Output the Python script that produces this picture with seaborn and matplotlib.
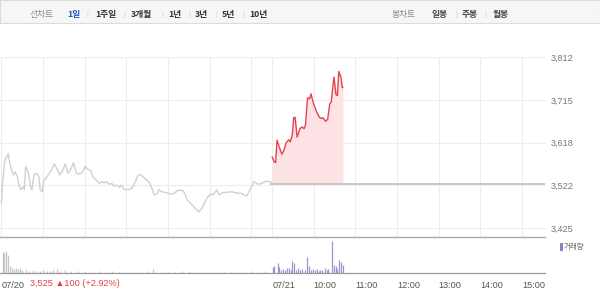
import matplotlib
matplotlib.use("Agg")
import matplotlib.pyplot as plt
from matplotlib.patches import Rectangle
import numpy as np
import pandas as pd
import seaborn as sns

# ---------------- data ----------------
# minutes since 09:00 of 07/20 (07/21 09:00 = 390)
day1_min = [0, 2, 5, 8, 10, 12, 15, 17, 20, 23, 26, 28, 31, 33, 35, 39, 42, 44, 47, 51,
            54, 56, 59, 61, 65, 69, 72, 76, 80, 84, 88, 92, 96, 100, 104, 108, 112, 116,
            118, 121, 124, 128, 132, 137, 141, 145, 148, 152, 155, 159, 162, 166, 170,
            173, 177, 183, 188, 193, 197, 200, 204, 212, 217, 220, 224, 227, 231, 238,
            243, 248, 253, 257, 262, 265, 268, 272, 276, 281, 285, 289, 293, 298, 302,
            305, 310, 314, 318, 325, 332, 337, 346, 353, 358, 364, 370, 375, 381, 387, 390]
day1_price = [3481, 3533, 3579, 3586, 3594, 3571, 3556, 3545, 3552, 3541, 3518, 3512, 3518,
              3512, 3564, 3549, 3518, 3512, 3545, 3549, 3541, 3512, 3507, 3533, 3539, 3549,
              3556, 3570, 3560, 3545, 3554, 3570, 3549, 3558, 3573, 3549, 3547, 3550, 3556,
              3565, 3558, 3556, 3541, 3533, 3526, 3530, 3527, 3530, 3524, 3526, 3520, 3522,
              3517, 3522, 3512, 3512, 3515, 3530, 3545, 3546, 3541, 3530, 3515, 3500, 3502,
              3512, 3507, 3505, 3502, 3503, 3509, 3511, 3509, 3500, 3488, 3482, 3475, 3466,
              3462, 3470, 3484, 3497, 3502, 3500, 3511, 3500, 3505, 3506, 3507, 3505, 3503,
              3497, 3511, 3530, 3524, 3526, 3531, 3530, 3526]

day2_min = [390, 393, 395, 397, 401, 404, 407, 410, 414, 416, 419, 421, 423, 426, 430, 433,
            436, 438, 441, 444, 446, 449, 454, 458, 461, 463, 467, 470, 473, 475, 479, 482,
            484, 486, 489, 491, 492]
day2_price = [3586, 3575, 3573, 3624, 3605, 3592, 3601, 3618, 3625, 3620, 3635, 3675, 3676,
              3631, 3650, 3654, 3650, 3658, 3720, 3718, 3729, 3710, 3688, 3676, 3673, 3675,
              3667, 3671, 3707, 3710, 3767, 3727, 3725, 3780, 3767, 3743, 3744]
base_price = 3525

vol1_min = [2, 4, 7, 9, 12, 15, 18, 21, 24, 27, 30, 35, 40, 45, 50, 55, 60, 65, 70, 75, 80,
            85, 92, 100, 110, 120, 130, 140, 150, 160, 170, 180, 190, 200, 210, 219, 230,
            240, 250, 260, 270, 280, 290, 300, 310, 320, 330, 340, 350, 360, 370, 380]
vol1 = [21, 20, 22, 18, 7, 5, 4, 5, 4, 5, 3, 3, 2, 3, 2, 2, 3, 2, 2, 3, 4, 2, 3, 2, 2, 2,
        1.5, 2, 1.5, 2, 1.5, 1.5, 1.5, 1.5, 2, 4, 1.5, 1.5, 1.5, 2, 2.5, 1.5, 1.5, 1.5, 1.5,
        1.5, 1.5, 1.5, 1.5, 2, 1.5, 2]
vol2_min = [391, 393, 398, 400, 403, 406, 409, 411, 414, 417, 419, 422, 424, 427, 430, 433,
            437, 440, 443, 446, 449, 452, 454, 457, 459, 462, 466, 469, 471, 476, 479, 482,
            484, 486, 489, 492]
vol2 = [6, 6.6, 10, 6, 3, 4.3, 3, 5, 5, 3, 11.6, 10, 3, 5, 3, 4, 3, 15.6, 6.6, 3, 4, 3, 4,
        2.5, 3.3, 3, 5, 3, 4, 31.6, 7.6, 6.6, 4, 13, 10.6, 7.6]

ytick_vals = [3425, 3521.75, 3618.5, 3715.25, 3812]
ytick_labels = ["3,425", "3,522", "3,618", "3,715", "3,812"]
grid_minutes = [0, 60, 120, 180, 240, 300, 360, 390, 450, 510, 570, 630, 690, 750]
xtick_minutes = [0, 390, 450, 510, 570, 630, 690, 750]
xtick_labels = ["07/20", "07/21", "10:00", "11:00", "12:00", "13:00", "14:00", "15:00"]

period_tabs = ["1일", "1주일", "3개월", "1년", "3년", "5년", "10년"]
candle_tabs = ["일봉", "주봉", "월봉"]

# ---------------- style ----------------
sns.set_theme(style="white")
plt.rcParams["font.family"] = ["Liberation Sans", "Noto Sans CJK KR", "DejaVu Sans"]
KR = ["Noto Sans CJK KR", "DejaVu Sans"]

W, H = 600, 300
fig = plt.figure(figsize=(6, 3), dpi=100)
fig.patch.set_facecolor("white")

def rect(x0, y0, x1, y1):
    return [x0 / W, 1 - y1 / H, (x1 - x0) / W, (y1 - y0) / H]

XL = (-2, 783)

# ---------------- price panel ----------------
ax = fig.add_axes(rect(0, 57, 545, 237))
ax.set_xlim(*XL)
ax.set_ylim(3404.5, 3812.6)
ax.fill_between(day2_min, day2_price, base_price, color="#fde3e6", lw=0, zorder=1)
ax.hlines(base_price, 387, XL[1], color="#c8c8c8", lw=1.4, zorder=2)
sns.lineplot(x=day1_min, y=day1_price, ax=ax, color="#d0d0d0", lw=1.0,
             estimator=None, sort=False, zorder=3)
sns.lineplot(x=day2_min, y=day2_price, ax=ax, color="#e5434e", lw=1.0,
             estimator=None, sort=False, zorder=4)
ax.set_xticks(grid_minutes)
ax.set_yticks(ytick_vals)
ax.set_yticklabels(ytick_labels)
ax.yaxis.tick_right()
ax.tick_params(axis="x", labelbottom=False, length=0)
ax.tick_params(axis="y", length=0, pad=4, labelsize=6.6, labelcolor="#777777")
ax.grid(True, color="#ededed", lw=0.8)
ax.set_axisbelow(True)
for s in ax.spines.values():
    s.set_visible(False)
ax.set_xlabel("")
ax.set_ylabel("")

# ---------------- volume panel ----------------
axv = fig.add_axes(rect(0, 237, 545, 273))
axv.set_xlim(*XL)
axv.set_ylim(0, 36)
axv.vlines(vol1_min, 0, vol1, color="#c6c6c6", lw=0.9)
axv.vlines(vol2_min, 0, vol2, color="#9d92d6", lw=0.9)
axv.set_yticks([])
axv.set_xticks(xtick_minutes)
axv.set_xticklabels(xtick_labels)
for lab in axv.get_xticklabels():
    lab.set_horizontalalignment("left")
axv.tick_params(axis="x", length=3, width=0.8, color="#999999", pad=2.5,
                labelsize=6.6, labelcolor="#555555")
for side in ["left", "right"]:
    axv.spines[side].set_visible(False)
axv.spines["top"].set_color("#a8a8a8")
axv.spines["top"].set_linewidth(1.0)
axv.spines["bottom"].set_color("#999999")
axv.spines["bottom"].set_linewidth(0.9)
axv.set_facecolor("none")

# volume legend
fig.patches.append(Rectangle((560 / W, 1 - 251 / H), 2.5 / W, 8 / H,
                             transform=fig.transFigure, color="#8c81c9", lw=0))
fig.text(564 / W, 1 - 247.5 / H, "거래량", fontsize=5.4, color="#666666",
         family=KR, va="center", ha="left")

# change text
fig.text(30 / W, 1 - 283.5 / H, "3,525 ▲100 (+2.92%)", fontsize=6.6, color="#e3413f",
         family=["Liberation Sans", "DejaVu Sans"], va="center", ha="left")

# ---------------- top tab bar ----------------
fig.patches.append(Rectangle((0, 1 - 23 / H), 1, 23 / H, transform=fig.transFigure,
                             facecolor="#f6f6f6", edgecolor="#dcdcdc", lw=0.8))
ty = 1 - 14 / H
fig.text(30 / W, ty, "선차트", fontsize=6.3, color="#888888", family=KR, va="center")
tab_x = [67, 95, 131, 168, 195, 222, 249]
sep_x = [87, 124, 162, 189, 216, 243]
for i, (t, x) in enumerate(zip(period_tabs, tab_x)):
    fig.text(x / W, ty, t, fontsize=6.3, fontweight="bold",
             color="#2456c4" if i == 0 else "#333333", family=KR, va="center")
for x in sep_x:
    fig.text(x / W, ty, "|", fontsize=5.5, color="#d0d0d0", va="center", ha="center")
fig.text(392 / W, ty, "봉차트", fontsize=6.3, color="#888888", family=KR, va="center")
for t, x in zip(candle_tabs, [431, 462, 493]):
    fig.text(x / W, ty, t, fontsize=6.3, fontweight="bold", color="#444444",
             family=KR, va="center")
for x in [456, 485]:
    fig.text(x / W, ty, "|", fontsize=5.5, color="#d0d0d0", va="center", ha="center")

fig.savefig("out.png", dpi=100, facecolor="white")
